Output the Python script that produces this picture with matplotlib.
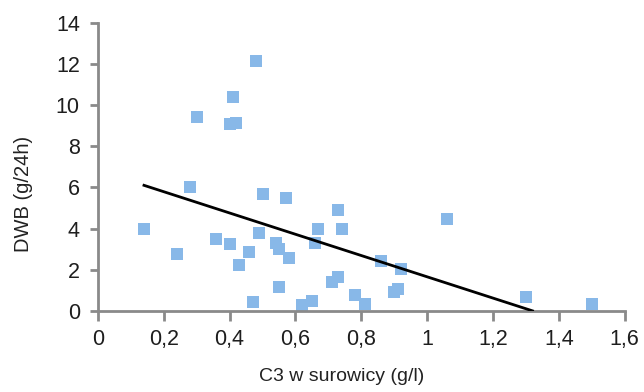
import matplotlib
matplotlib.use("Agg")
import matplotlib.pyplot as plt
from matplotlib.ticker import FuncFormatter

plt.rcParams['font.family'] = ['Liberation Sans', 'DejaVu Sans']

# Dane
c3 = [0.14, 0.24, 0.28, 0.30, 0.36, 0.40, 0.40, 0.42, 0.41, 0.43, 0.46, 0.47,
      0.48, 0.49, 0.50, 0.54, 0.55, 0.55, 0.57, 0.58, 0.62, 0.65, 0.66, 0.67,
      0.71, 0.73, 0.73, 0.74, 0.78, 0.81, 0.86, 0.90, 0.91, 0.92, 1.06, 1.30, 1.50]
dwb = [4.0, 2.75, 6.0, 9.4, 3.5, 3.25, 9.1, 9.15, 10.4, 2.25, 2.85, 0.45,
       12.15, 3.8, 5.7, 3.3, 3.0, 1.15, 5.5, 2.55, 0.3, 0.5, 3.3, 4.0,
       1.4, 1.65, 4.9, 4.0, 0.75, 0.35, 2.4, 0.9, 1.05, 2.05, 4.45, 0.65, 0.35]

# Linia regresji
line_x = [0.14, 1.32]
line_y = [6.1, 0.0]

fig = plt.figure(figsize=(6.44, 3.92), dpi=100)
ax = fig.add_axes([0.152, 0.207, 0.818, 0.735])

ax.scatter(c3, dwb, marker='s', s=80, color='#88b8e8', linewidths=0, zorder=2)
ax.plot(line_x, line_y, color='black', lw=2, zorder=3)

ax.set_xlim(0, 1.6)
ax.set_ylim(0, 14)
ax.set_xticks([0, 0.2, 0.4, 0.6, 0.8, 1.0, 1.2, 1.4, 1.6])
ax.set_yticks(range(0, 15, 2))
ax.xaxis.set_major_formatter(FuncFormatter(lambda v, p: ('%g' % round(v, 1)).replace('.', ',')))

for side in ['top', 'right']:
    ax.spines[side].set_visible(False)
for side in ['left', 'bottom']:
    ax.spines[side].set_color('#8a8a8a')
    ax.spines[side].set_linewidth(2)
ax.tick_params(colors='#8a8a8a', width=2, labelsize=15.5, labelcolor='#1e1e1e')
ax.tick_params(axis='x', length=7, pad=6)
ax.tick_params(axis='y', length=6, pad=7)

ax.set_ylabel('DWB (g/24h)', fontsize=14.5, color='#222222')
ax.yaxis.set_label_coords(-0.123, 0.406)
ax.set_xlabel('C3 w surowicy (g/l)', fontsize=14, color='#222222')
ax.xaxis.set_label_coords(0.463, -0.2)

fig.savefig('out.png', dpi=100)
